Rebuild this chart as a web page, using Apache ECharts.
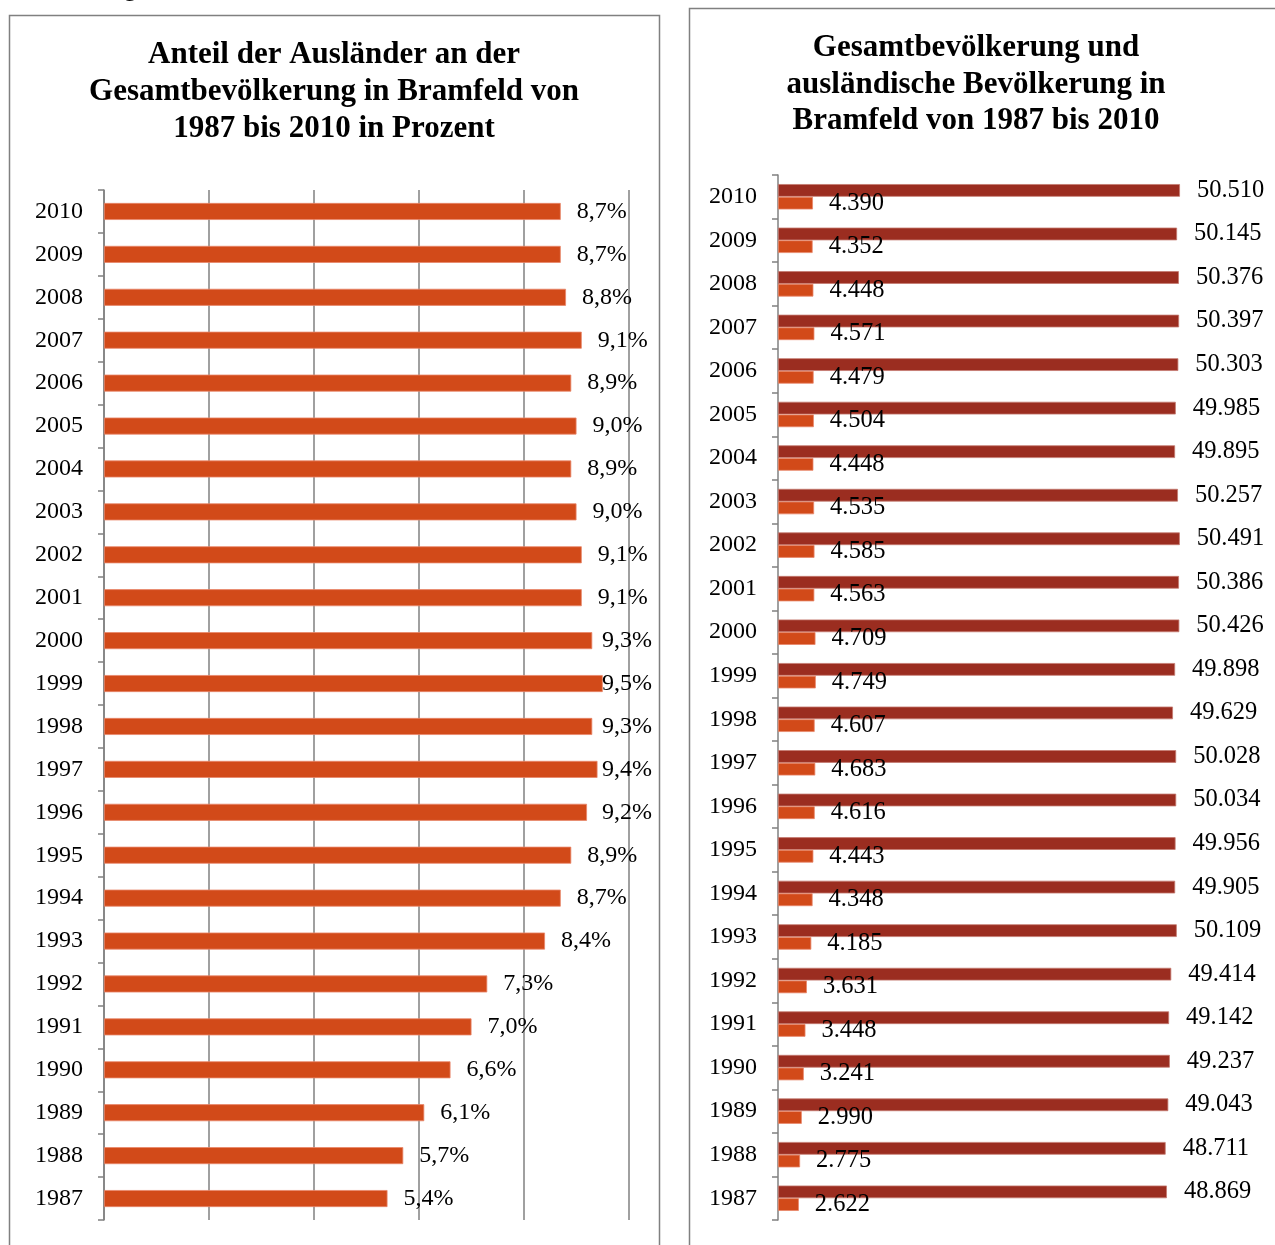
<!DOCTYPE html>
<html lang="de">
<head>
<meta charset="utf-8">
<title>Bevölkerung in Bramfeld 1987–2010</title>
<script src="https://cdn.jsdelivr.net/npm/echarts@6/dist/echarts.min.js"></script>
<style>
  html, body { margin: 0; padding: 0; background: #ffffff; }
  #chart { width: 1275px; height: 1245px; }
</style>
</head>
<body>
<div id="chart"></div>
<script>
// Jahre (von unten nach oben)
const years = ['1987','1988','1989','1990','1991','1992','1993','1994','1995','1996','1997','1998',
               '1999','2000','2001','2002','2003','2004','2005','2006','2007','2008','2009','2010'];

// Anteil der Ausländer an der Gesamtbevölkerung in Prozent
const auslaenderAnteil = [5.4, 5.7, 6.1, 6.6, 7.0, 7.3, 8.4, 8.7, 8.9, 9.2, 9.4, 9.3,
                          9.5, 9.3, 9.1, 9.1, 9.0, 8.9, 9.0, 8.9, 9.1, 8.8, 8.7, 8.7];

// Gesamtbevölkerung
const gesamtBevoelkerung = [48869, 48711, 49043, 49237, 49142, 49414, 50109, 49905, 49956, 50034, 50028, 49629,
                            49898, 50426, 50386, 50491, 50257, 49895, 49985, 50303, 50397, 50376, 50145, 50510];

// Ausländische Bevölkerung
const auslaendischeBevoelkerung = [2622, 2775, 2990, 3241, 3448, 3631, 4185, 4348, 4443, 4616, 4683, 4607,
                                   4749, 4709, 4563, 4585, 4535, 4448, 4504, 4479, 4571, 4448, 4352, 4390];

const titleLeft = 'Anteil der Ausländer an der\nGesamtbevölkerung in Bramfeld von\n1987 bis 2010 in Prozent';
const titleRight = 'Gesamtbevölkerung und\nausländische Bevölkerung in\nBramfeld von 1987 bis 2010';

const SERIF = '"Liberation Serif", "DejaVu Serif", serif';
const ORANGE = '#D24A19';
const DARKRED = '#9B2D20';
const GRAY = '#808080';

const fmtPercent = v => v.toFixed(1).replace('.', ',') + '%';
const fmtThousands = v => String(v).replace(/\B(?=(\d{3})+(?!\d))/g, '.');

const chart = echarts.init(document.getElementById('chart'), null, { renderer: 'canvas' });

const yearLabel = { fontFamily: SERIF, fontSize: 24, color: '#000', margin: 21 };

chart.setOption({
  animation: false,
  backgroundColor: '#ffffff',
  textStyle: { fontFamily: SERIF },
  title: [
    {
      text: titleLeft, left: 329, top: 31, textAlign: 'center',
      textStyle: { fontFamily: SERIF, fontWeight: 'bold', fontSize: 31, lineHeight: 37, color: '#000' }
    },
    {
      text: titleRight, left: 971, top: 25, textAlign: 'center',
      textStyle: { fontFamily: SERIF, fontWeight: 'bold', fontSize: 31, lineHeight: 36.5, color: '#000' }
    }
  ],
  graphic: [
    // Rahmen der beiden Diagramme
    { type: 'rect', shape: { x: 9.5, y: 15.5, width: 650, height: 1260 }, style: { fill: 'none', stroke: GRAY, lineWidth: 1.5 }, silent: true },
    { type: 'rect', shape: { x: 689.5, y: 8.5, width: 620, height: 1260 }, style: { fill: 'none', stroke: GRAY, lineWidth: 1.5 }, silent: true },
    // Überschrift der Seite, oberhalb des sichtbaren Bereichs
    { type: 'text', x: 136, y: -10, style: { text: 'Abbildung', fontFamily: SERIF, fontSize: 24, fill: '#000', align: 'right', verticalAlign: 'middle' }, silent: true }
  ],
  grid: [
    { left: 104, top: 190, width: 525, height: 1030, containLabel: false },
    { left: 778, top: 175, width: 477.5, height: 1045, containLabel: false }
  ],
  xAxis: [
    {
      gridIndex: 0, type: 'value', min: 0, max: 10, interval: 2,
      axisLabel: { show: false }, axisTick: { show: false }, axisLine: { show: false },
      splitLine: { show: true, lineStyle: { color: GRAY, width: 1.5 } }
    },
    {
      gridIndex: 1, type: 'value', min: 0, max: 60000,
      axisLabel: { show: false }, axisTick: { show: false }, axisLine: { show: false },
      splitLine: { show: false }
    }
  ],
  yAxis: [
    {
      gridIndex: 0, type: 'category', data: years,
      axisLine: { show: true, lineStyle: { color: GRAY, width: 1.5 } },
      axisTick: { show: true, length: 6, lineStyle: { color: GRAY, width: 1.5 } },
      axisLabel: yearLabel
    },
    {
      gridIndex: 1, type: 'category', data: years,
      axisLine: { show: true, lineStyle: { color: GRAY, width: 1.5 } },
      axisTick: { show: true, length: 6, lineStyle: { color: GRAY, width: 1.5 } },
      axisLabel: yearLabel
    }
  ],
  series: [
    {
      name: 'Anteil der Ausländer', type: 'bar', xAxisIndex: 0, yAxisIndex: 0,
      data: auslaenderAnteil, barWidth: 17,
      itemStyle: { color: ORANGE, borderColor: '#E8876A', borderWidth: 0.8 },
      label: {
        show: true, position: 'right', distance: 16,
        fontFamily: SERIF, fontSize: 24, color: '#000',
        formatter: p => fmtPercent(p.value)
      },
      // Beschriftungen nicht über den Rahmen hinausragen lassen
      labelLayout: p => ({
        x: Math.min(p.labelRect.x, 652 - p.labelRect.width),
        y: p.labelRect.y + p.labelRect.height / 2,
        align: 'left',
        verticalAlign: 'middle'
      })
    },
    {
      name: 'Gesamtbevölkerung', type: 'bar', xAxisIndex: 1, yAxisIndex: 1,
      data: gesamtBevoelkerung, barWidth: 12.7, barGap: '0%',
      itemStyle: { color: DARKRED, borderColor: '#C47A70', borderWidth: 0.8 },
      label: {
        show: true, position: 'right', distance: 17,
        fontFamily: SERIF, fontSize: 24.5, color: '#000',
        formatter: p => fmtThousands(p.value)
      }
    },
    {
      name: 'Ausländische Bevölkerung', type: 'bar', xAxisIndex: 1, yAxisIndex: 1,
      data: auslaendischeBevoelkerung, barWidth: 12.7, barGap: '0%',
      itemStyle: { color: ORANGE, borderColor: '#E8876A', borderWidth: 0.8 },
      label: {
        show: true, position: 'right', distance: 16,
        fontFamily: SERIF, fontSize: 24.5, color: '#000',
        formatter: p => fmtThousands(p.value)
      }
    }
  ]
});
</script>
</body>
</html>
